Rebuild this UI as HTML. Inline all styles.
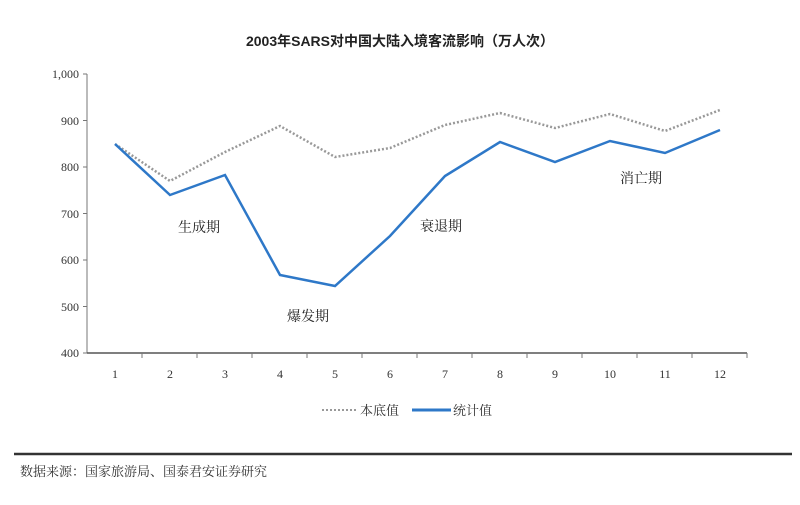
<!DOCTYPE html>
<html><head><meta charset="utf-8"><style>
body{margin:0;background:#fff;width:800px;height:500px;overflow:hidden}
svg text{font-family:"Liberation Serif","Noto Serif CJK SC",serif}
</style></head><body>
<svg width="800" height="500" xmlns="http://www.w3.org/2000/svg">
<text x="400" y="46" text-anchor="middle" font-size="14" font-weight="bold" fill="#222" style="font-family:'Liberation Sans','Noto Sans CJK SC',sans-serif">2003年SARS对中国大陆入境客流影响（万人次）</text>
<g stroke="#777" stroke-width="1" fill="none">
<line x1="87" y1="74" x2="87" y2="353"/>
<line x1="87" y1="353" x2="747" y2="353" stroke="#555" stroke-width="1.5"/>
<line x1="83" y1="74" x2="87" y2="74"/><line x1="83" y1="120.5" x2="87" y2="120.5"/>
<line x1="83" y1="167" x2="87" y2="167"/><line x1="83" y1="213.5" x2="87" y2="213.5"/>
<line x1="83" y1="260" x2="87" y2="260"/><line x1="83" y1="306.5" x2="87" y2="306.5"/>
<line x1="83" y1="353" x2="87" y2="353"/>
<path d="M142 353v5M197 353v5M252 353v5M307 353v5M362 353v5M417 353v5M472 353v5M527 353v5M582 353v5M637 353v5M692 353v5M747 353v5"/>
</g>
<g font-size="12" fill="#333" text-anchor="end">
<text x="79" y="78">1,000</text><text x="79" y="125">900</text><text x="79" y="171">800</text>
<text x="79" y="218">700</text><text x="79" y="264">600</text><text x="79" y="311">500</text><text x="79" y="357">400</text>
</g>
<g font-size="12" fill="#333" text-anchor="middle">
<text x="115" y="378">1</text><text x="170" y="378">2</text><text x="225" y="378">3</text><text x="280" y="378">4</text>
<text x="335" y="378">5</text><text x="390" y="378">6</text><text x="445" y="378">7</text><text x="500" y="378">8</text>
<text x="555" y="378">9</text><text x="610" y="378">10</text><text x="665" y="378">11</text><text x="720" y="378">12</text>
</g>
<polyline fill="none" stroke="#999" stroke-width="2.5" stroke-dasharray="2,2" points="115,144 170,181 225,152 280,126 335,157 390,148 445,125 500,113 555,128 610,114 665,131 720,110"/>
<polyline fill="none" stroke="#2e78c8" stroke-width="2.5" points="115,144 170,195 225,175 280,275 335,286 390,236 445,176 500,142 555,162 610,141 665,153 720,130"/>
<g font-size="14" fill="#222" style="font-family:'Liberation Sans','Noto Sans CJK SC',sans-serif">
<text x="178" y="232">生成期</text><text x="287" y="321">爆发期</text>
<text x="420" y="231">衰退期</text><text x="620" y="183">消亡期</text>
</g>
<line x1="322" y1="410" x2="358" y2="410" stroke="#999" stroke-width="2" stroke-dasharray="2,2"/>
<text x="360" y="415" font-size="13" fill="#333">本底值</text>
<line x1="412" y1="410" x2="451" y2="410" stroke="#2e78c8" stroke-width="3"/>
<text x="453" y="415" font-size="13" fill="#333">统计值</text>
<line x1="14" y1="454" x2="792" y2="454" stroke="#333" stroke-width="2.5"/>
<text x="20" y="476" font-size="13" fill="#333">数据来源：国家旅游局、国泰君安证券研究</text>
</svg>
</body></html>
